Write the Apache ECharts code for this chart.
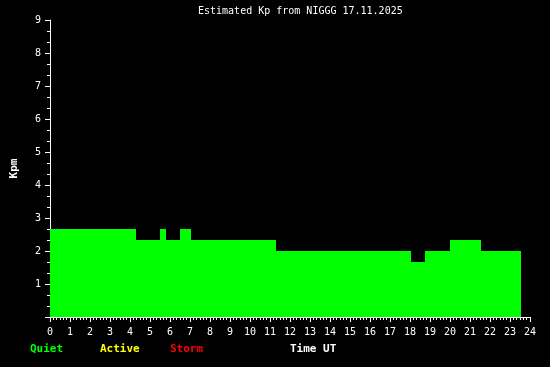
<!DOCTYPE html>
<html>
<head>
<meta charset="utf-8">
<script src="https://cdn.jsdelivr.net/npm/echarts@6/dist/echarts.min.js"></script>
<style>html,body{margin:0;padding:0;background:#000;}#c{width:550px;height:367px;}</style>
</head>
<body>
<div id="c"></div>
<script>
// Step segments of estimated Kp (hours UT)
var segStart = [0, 4.28, 5.5, 5.8, 6.5, 7.05, 11.3, 18.05, 18.75, 20.0, 21.55];
var segEnd   = [4.28, 5.5, 5.8, 6.5, 7.05, 11.3, 18.05, 18.75, 20.0, 21.55, 23.55];
var segValue = [2.667, 2.333, 2.667, 2.333, 2.667, 2.333, 2.0, 1.667, 2.0, 2.333, 2.0];
var titleText = 'Estimated Kp from NIGGG 17.11.2025';
var legendLabels = ['Quiet', 'Active', 'Storm'];
var xLabelName = 'Time UT';
var yLabelName = 'Kpm';

var segData = segStart.map(function (s, i) { return [s, segEnd[i], segValue[i]]; });
var mono = '"DejaVu Sans Mono", "Liberation Mono", monospace';

var chart = echarts.init(document.getElementById('c'), null, {renderer: 'canvas'});
chart.setOption({
  backgroundColor: '#000000',
  animation: false,
  grid: {left: 50, right: 20, top: 20, bottom: 50, containLabel: false, outerBoundsMode: 'none'},
  xAxis: {
    type: 'value', min: 0, max: 24, interval: 1,
    axisLine: {show: true, lineStyle: {color: '#ffffff', width: 1}},
    axisTick: {show: true, length: 5, lineStyle: {color: '#ffffff'}},
    minorTick: {show: true, splitNumber: 6, length: 3, lineStyle: {color: '#ffffff'}},
    splitLine: {show: false},
    axisLabel: {color: '#ffffff', fontFamily: mono, fontSize: 10, margin: 10}
  },
  yAxis: {
    type: 'value', min: 0, max: 9, interval: 1,
    name: yLabelName, nameLocation: 'middle', nameRotate: 90, nameGap: 30,
    nameTextStyle: {color: '#ffffff', fontFamily: mono, fontSize: 11, fontWeight: 'bold'},
    axisLine: {show: true, lineStyle: {color: '#ffffff', width: 1}},
    axisTick: {show: true, length: 5, lineStyle: {color: '#ffffff'}},
    minorTick: {show: true, splitNumber: 3, length: 3, lineStyle: {color: '#ffffff'}},
    splitLine: {show: false},
    axisLabel: {color: '#ffffff', fontFamily: mono, fontSize: 10, margin: 9,
      formatter: function (v) { return v === 0 ? '' : String(v); }}
  },
  graphic: [
    {type: 'text', left: 300 - 102, top: 6, style: {text: titleText, fill: '#ffffff', font: '10px ' + mono}},
    {type: 'text', left: 30, top: 344, style: {text: legendLabels[0], fill: '#00ff00', font: 'bold 11px ' + mono}},
    {type: 'text', left: 100, top: 344, style: {text: legendLabels[1], fill: '#ffff00', font: 'bold 11px ' + mono}},
    {type: 'text', left: 170, top: 344, style: {text: legendLabels[2], fill: '#ff0000', font: 'bold 11px ' + mono}},
    {type: 'text', left: 290, top: 344, style: {text: xLabelName, fill: '#ffffff', font: 'bold 11px ' + mono}}
  ],
  series: [{
    type: 'custom',
    data: segData,
    encode: {x: [0, 1], y: 2},
    z: 1,
    renderItem: function (params, api) {
      var p0 = api.coord([api.value(0), api.value(2)]);
      var p1 = api.coord([api.value(1), 0]);
      var x0 = Math.round(p0[0]), x1 = Math.round(p1[0]);
      var y0 = Math.round(p0[1]), y1 = Math.round(p1[1]);
      return {
        type: 'rect',
        shape: {x: x0, y: y0, width: x1 - x0, height: y1 - y0},
        style: {fill: '#00ff00', stroke: null}
      };
    }
  }]
});
</script>
</body>
</html>
